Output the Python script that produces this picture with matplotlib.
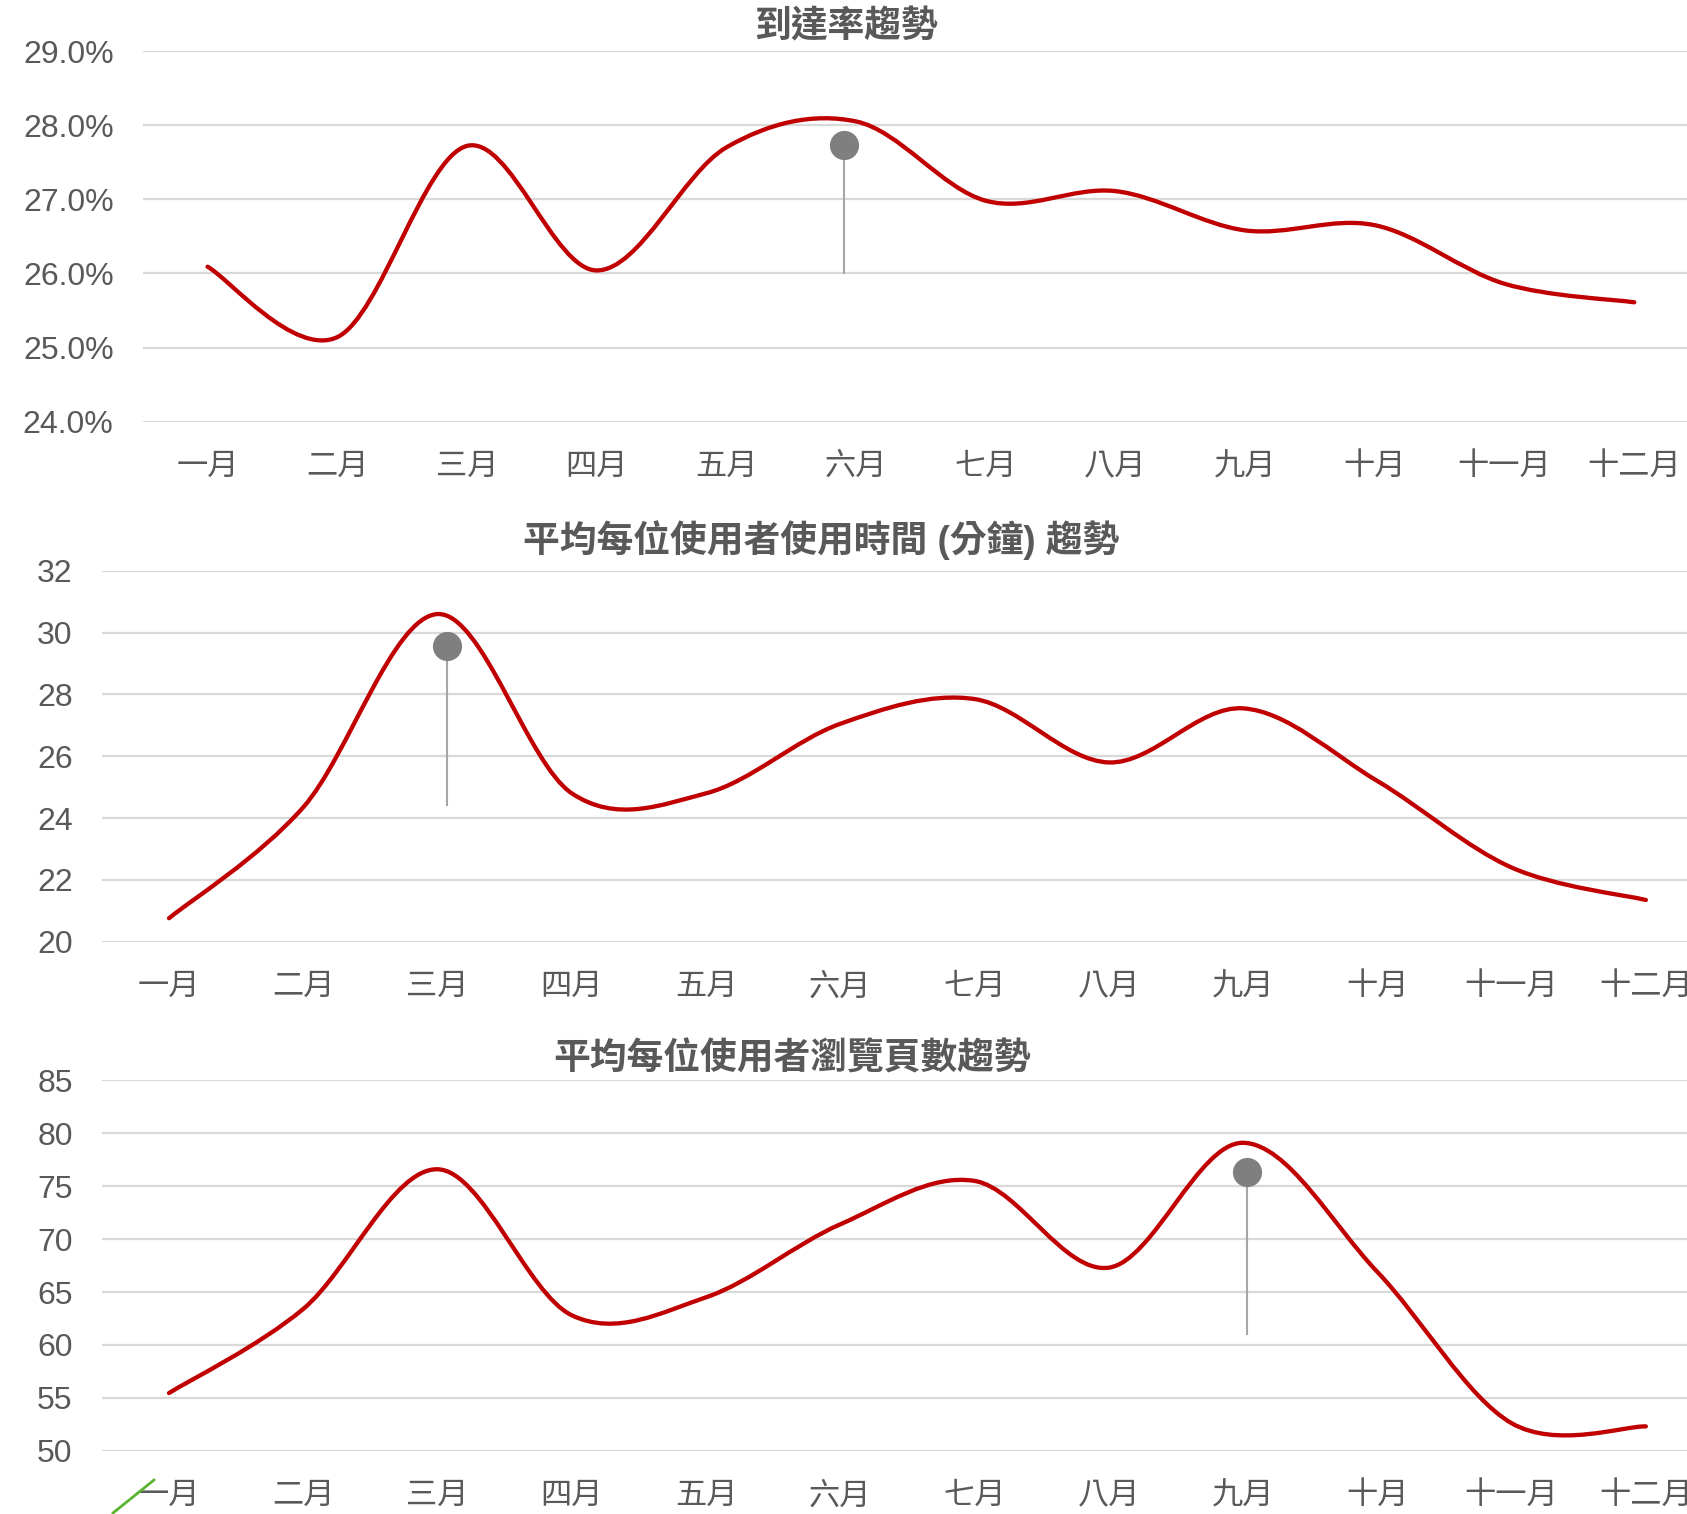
import matplotlib
matplotlib.use("Agg")
import matplotlib.pyplot as plt
import numpy as np
from matplotlib.path import Path
from matplotlib.patches import PathPatch
from matplotlib.lines import Line2D
from matplotlib.ticker import FuncFormatter

plt.rcParams['font.family'] = ['Liberation Sans', 'Noto Sans CJK TC']

months = ['一月', '二月', '三月', '四月', '五月', '六月',
          '七月', '八月', '九月', '十月', '十一月', '十二月']

# monthly series
reach_rate = [26.09, 25.14, 27.72, 26.04, 27.70, 28.05,
              26.98, 27.11, 26.58, 26.65, 25.86, 25.61]
avg_minutes = [20.76, 24.35, 30.60, 24.80, 24.80, 27.05,
               27.85, 25.80, 27.55, 25.20, 22.40, 21.35]
avg_pages = [55.45, 63.4, 76.6, 62.8, 64.5, 71.4,
             75.5, 67.3, 79.1, 66.9, 52.6, 52.3]

# pin markers: (x position, head value, foot value)
pin_reach = (4.91, 27.73, 26.0)
pin_minutes = (2.07, 29.58, 24.42)
pin_pages = (8.03, 76.3, 61.0)

titles = ['到達率趨勢', '平均每位使用者使用時間 (分鐘) 趨勢', '平均每位使用者瀏覽頁數趨勢']

TXT = '#595959'
GRID = '#d9d9d9'
RED = '#c00000'


def smooth_line(ax, y, **kw):
    # Catmull-Rom style bezier through every point
    y = np.asarray(y, float)
    x = np.arange(len(y), dtype=float)
    px = np.concatenate([[x[0]], x, [x[-1]]])
    py = np.concatenate([[y[0]], y, [y[-1]]])
    verts = [(x[0], y[0])]
    for i in range(len(x) - 1):
        c1 = (x[i] + (px[i + 2] - px[i]) / 6, y[i] + (py[i + 2] - py[i]) / 6)
        c2 = (x[i + 1] - (px[i + 3] - px[i + 1]) / 6,
              y[i + 1] - (py[i + 3] - py[i + 1]) / 6)
        verts += [c1, c2, (x[i + 1], y[i + 1])]
    codes = [Path.MOVETO] + [Path.CURVE4] * (3 * (len(x) - 1))
    ax.add_patch(PathPatch(Path(verts, codes), fill=False, **kw))


def setup(ax, ymin, ymax, step, fmt):
    ax.set_xlim(-0.5, 11.5)
    ax.set_ylim(ymin, ymax)
    ax.set_yticks(np.arange(ymin, ymax + step / 2, step))
    ax.yaxis.set_major_formatter(FuncFormatter(fmt))
    ax.set_xticks(range(12))
    ax.set_xticklabels(months)
    ax.yaxis.grid(True, color=GRID, lw=1.6)
    ax.set_axisbelow(True)
    for s in ax.spines.values():
        s.set_visible(False)
    ax.tick_params(axis='y', length=0, pad=21, labelsize=23, labelcolor=TXT)
    ax.tick_params(axis='x', length=0, pad=22, labelsize=22.5, labelcolor=TXT)


def pin(ax, p):
    x, head, foot = p
    ax.plot([x, x], [foot, head], color='#a6a6a6', lw=1.5, zorder=4)
    ax.plot([x], [head], 'o', color='#7f7f7f', ms=21, mec='none', zorder=5)


fig = plt.figure(figsize=(16.87, 15.14), dpi=100)

ax1 = fig.add_axes([0.0846, 0.7215, 0.9226, 0.2448])
ax2 = fig.add_axes([0.0604, 0.378, 0.955, 0.245])
ax3 = fig.add_axes([0.0604, 0.0418, 0.955, 0.2446])

setup(ax1, 24, 29, 1, lambda v, _: f'{v:.1f}%')
setup(ax2, 20, 32, 2, lambda v, _: f'{v:.0f}')
setup(ax3, 50, 85, 5, lambda v, _: f'{v:.0f}')

for ax, vals, p in [(ax1, reach_rate, pin_reach),
                    (ax2, avg_minutes, pin_minutes),
                    (ax3, avg_pages, pin_pages)]:
    smooth_line(ax, vals, edgecolor=RED, lw=3.1, capstyle='round', zorder=3)
    pin(ax, p)

fig.text(0.5015, 0.9818, titles[0], ha='center', va='center',
         fontsize=26.5, fontweight='bold', color=TXT)
fig.text(0.487, 0.6433, titles[1], ha='center', va='center',
         fontsize=26.5, fontweight='bold', color=TXT)
fig.text(0.4698, 0.2999, titles[2], ha='center', va='center',
         fontsize=26.5, fontweight='bold', color=TXT)

# small green stroke in the lower-left corner
fig.add_artist(Line2D([113 / 1687, 154 / 1687], [1 / 1514, 34 / 1514],
                      transform=fig.transFigure, color='#5cb531', lw=2))

fig.savefig('out.png', dpi=100)
